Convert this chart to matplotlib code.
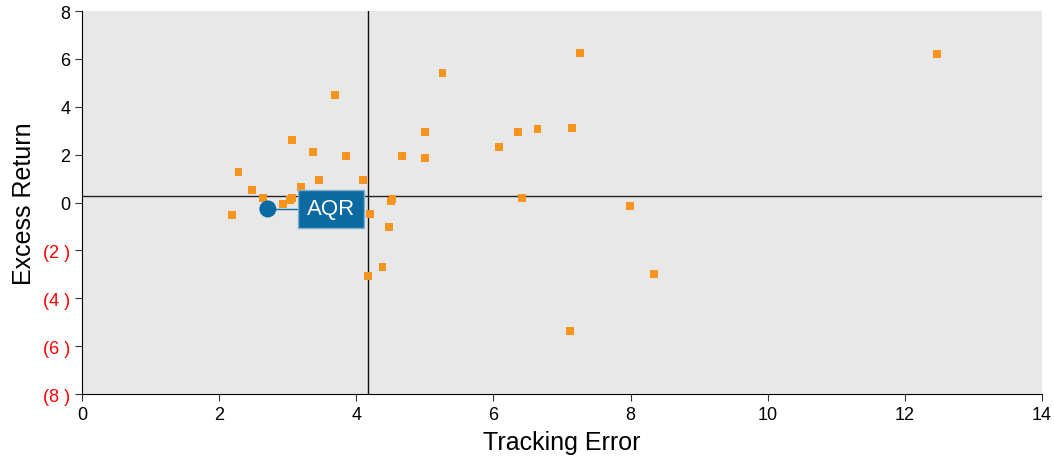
import matplotlib.pyplot as plt

plt.rcParams['font.family'] = ['Liberation Sans', 'DejaVu Sans']

# peer funds: tracking error vs excess return
tracking_error = [2.19, 2.28, 2.48, 2.64, 2.93, 3.03, 3.06, 3.06, 3.19, 3.30, 3.37, 3.46,
                  3.69, 3.85, 4.10, 4.20, 4.17, 4.38, 4.48, 4.51, 4.53, 4.67,
                  5.00, 5.00, 5.26, 6.08, 6.36, 6.42, 6.64, 7.12, 7.15, 7.26,
                  7.99, 8.34, 12.47]
excess_return = [-0.52, 1.27, 0.52, 0.19, -0.06, 0.10, 0.20, 2.60, 0.65, 0.27, 2.10, 0.94,
                 4.49, 1.94, 0.94, -0.48, -3.07, -2.70, -1.02, 0.06, 0.15, 1.94,
                 2.94, 1.86, 5.41, 2.32, 2.94, 0.19, 3.07, -5.37, 3.11, 6.24,
                 -0.15, -2.99, 6.20]

aqr_te, aqr_er = 2.71, -0.27
median_te, median_er = 4.17, 0.27

yticks = [8, 6, 4, 2, 0, -2, -4, -6, -8]
ytick_labels = ['8', '6', '4', '2', '0', '(2 )', '(4 )', '(6 )', '(8 )']

fig = plt.figure(figsize=(10.54, 4.6), dpi=100)
ax = fig.add_axes([0.0778, 0.1413, 0.9108, 0.8326])
ax.set_facecolor('#e8e8e8')

ax.axvline(median_te, color='#111111', lw=1, zorder=1)
ax.axhline(median_er, color='#222222', lw=1, zorder=1)

ax.scatter(tracking_error, excess_return, marker='s', s=30, color='#f7941d',
           edgecolor='none', zorder=3)

# AQR highlight
ax.plot([aqr_te, aqr_te + 0.45], [aqr_er, aqr_er], color='#0a6aa1', lw=1, zorder=4)
ax.scatter([aqr_te], [aqr_er], s=150, color='#0a6aa1', edgecolor='none', zorder=5)
ax.text(aqr_te + 0.57, aqr_er, 'AQR', color='white', fontsize=16, va='center', ha='left',
        zorder=6, bbox=dict(boxstyle='square,pad=0.38', fc='#0a6aa1', ec='#7fb0cc', lw=1))

ax.set_xlim(0, 14)
ax.set_ylim(-8, 8)
ax.set_xticks(range(0, 15, 2))
ax.set_yticks(yticks)
ax.set_yticklabels(ytick_labels)
for lab, v in zip(ax.get_yticklabels(), yticks):
    lab.set_color('red' if v < 0 else 'black')

ax.tick_params(labelsize=13, direction='out', length=5, color='#333333')
ax.spines['top'].set_visible(False)
ax.spines['right'].set_visible(False)
ax.set_xlabel('Tracking Error', fontsize=18, labelpad=5)
ax.set_ylabel('Excess Return', fontsize=18, labelpad=5)

fig.savefig('out.png', dpi=100)
